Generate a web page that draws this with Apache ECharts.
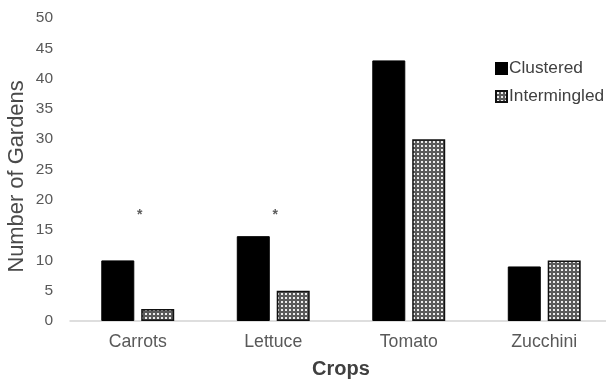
<!DOCTYPE html>
<html>
<head>
<meta charset="utf-8">
<script src="https://cdn.jsdelivr.net/npm/echarts@6/dist/echarts.min.js"></script>
<style>
  html, body { margin: 0; padding: 0; background: #fff; }
  #chart { width: 606px; height: 380px; }
</style>
</head>
<body>
<div id="chart"></div>
<script>
// Garden counts by crop and planting layout
const crops = ['Carrots', 'Lettuce', 'Tomato', 'Zucchini'];
const clustered = [10, 14, 43, 9];
const intermingled = [2, 5, 30, 10];
// Significance markers placed above selected crops
const sigMarks = ['*', '*', '', ''];
const sigLevel = 18;
const yTicks = [0, 5, 10, 15, 20, 25, 30, 35, 40, 45, 50];

// Dotted hatch fill for the intermingled bars
function makeHatch() {
  const c = document.createElement('canvas');
  c.width = 4; c.height = 4;
  const g = c.getContext('2d');
  g.fillStyle = '#5a5a5a';
  g.fillRect(0, 0, 4, 4);
  g.fillStyle = '#ececec';
  g.fillRect(1, 1, 2, 2);
  return c;
}
const hatch = { image: makeHatch(), repeat: 'repeat' };

const font = '"Liberation Sans", Arial, sans-serif';
const chart = echarts.init(document.getElementById('chart'), null, { renderer: 'canvas' });

const sigData = [];
sigMarks.forEach((m, i) => { if (m) sigData.push({ value: [crops[i], sigLevel], mark: m }); });

chart.setOption({
  animation: false,
  textStyle: { fontFamily: font },
  grid: { left: 70, right: -6, top: 18, bottom: 59, outerBoundsMode: 'none', containLabel: false },
  legend: {
    orient: 'vertical',
    left: 490,
    top: 55,
    itemWidth: 11,
    itemHeight: 11,
    itemGap: 11,
    icon: 'rect',
    textStyle: { fontFamily: font, fontSize: 17.3, color: '#404040', padding: [0, 0, 0, -3] },
    data: ['Clustered', 'Intermingled']
  },
  xAxis: {
    type: 'category',
    data: crops,
    name: 'Crops',
    nameLocation: 'middle',
    nameGap: 38,
    nameMoveOverlap: false,
    nameTextStyle: { fontFamily: font, fontSize: 20, fontWeight: 'bold', color: '#404040' },
    axisLine: { lineStyle: { color: '#d4d4d4', width: 1.5 } },
    axisTick: { show: false },
    axisLabel: { fontFamily: font, fontSize: 17.7, color: '#595959', margin: 12 }
  },
  yAxis: {
    type: 'value',
    min: 0,
    max: 50,
    interval: 5,
    name: 'Number of Gardens',
    nameLocation: 'middle',
    nameGap: 42,
    nameMoveOverlap: false,
    nameTextStyle: { fontFamily: font, fontSize: 21.9, color: '#4a4a4a', padding: [0, 14, 0, 0] },
    axisLine: { show: false },
    axisTick: { show: false },
    splitLine: { show: false },
    axisLabel: {
      fontFamily: font, fontSize: 15.5, color: '#595959', margin: 17,
      formatter: v => (yTicks.indexOf(v) >= 0 ? String(v) : '')
    }
  },
  series: [
    {
      name: 'Clustered',
      type: 'bar',
      data: clustered,
      barWidth: 33,
      barGap: '21%',
      itemStyle: { color: '#000', borderColor: '#000', borderWidth: 1 }
    },
    {
      name: 'Intermingled',
      type: 'bar',
      data: intermingled,
      barWidth: 33,
      itemStyle: { color: hatch, borderColor: '#111', borderWidth: 1.5 }
    },
    {
      name: 'sig',
      type: 'scatter',
      data: sigData,
      symbolSize: 0,
      silent: true,
      label: {
        show: true,
        position: 'inside',
        offset: [2, 3],
        formatter: p => p.data.mark,
        fontFamily: font,
        fontSize: 14,
        fontWeight: 'bold',
        color: '#333'
      }
    }
  ]
});
</script>
</body>
</html>
